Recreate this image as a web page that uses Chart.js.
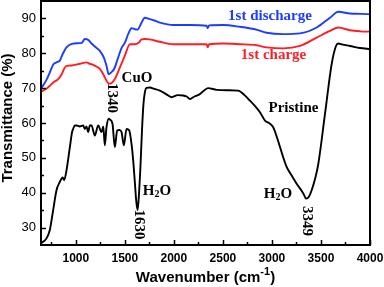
<!DOCTYPE html>
<html>
<head>
<meta charset="utf-8">
<script src="https://cdn.jsdelivr.net/npm/chart.js@4/dist/chart.umd.min.js"></script>
<style>
  html, body { margin: 0; padding: 0; background: #fff; }
  canvas { display: block; }
</style>
</head>
<body>
<canvas id="ftirChart" width="384" height="287"></canvas>
<script>
// FT-IR spectra: wavenumber (cm-1) vs transmittance (%)
const dischargeWavenumber = [650, 700, 735, 770, 803, 837, 870, 905, 960, 1024, 1060, 1092, 1125, 1160, 1200, 1245, 1285, 1313, 1335, 1360, 1391, 1432, 1466, 1500, 1534, 1568, 1602, 1630, 1665, 1704, 1755, 1800, 1857, 1993, 2163, 2334, 2345, 2360, 2503, 2674, 2827, 2946, 3115, 3286, 3456, 3592, 3677, 3796, 3900, 4000];
const dischargeValues = [70.1, 72.3, 74.5, 76.8, 77.4, 77.9, 80.0, 81.7, 82.7, 82.9, 83.0, 84.1, 83.9, 82.8, 81.8, 80.7, 78.8, 76.4, 74.0, 74.5, 75.5, 78.8, 81.5, 83.0, 85.5, 87.2, 86.9, 86.8, 88.5, 90.2, 89.8, 89.4, 88.8, 88.1, 88.1, 87.9, 87.2, 88.0, 88.1, 87.6, 86.9, 85.9, 85.5, 85.7, 87.4, 90.2, 91.9, 91.4, 91.3, 91.2];

const chargeWavenumber = [650, 700, 735, 780, 820, 854, 880, 905, 960, 1024, 1060, 1109, 1140, 1177, 1210, 1245, 1280, 1313, 1340, 1365, 1398, 1449, 1500, 1551, 1602, 1640, 1670, 1704, 1755, 1857, 1993, 2163, 2334, 2345, 2360, 2503, 2674, 2844, 2946, 3115, 3286, 3456, 3592, 3677, 3796, 3900, 4000];
const chargeValues = [69.1, 69.8, 70.7, 71.8, 72.6, 73.9, 75.5, 76.4, 76.5, 76.9, 77.1, 77.4, 77.0, 76.7, 76.2, 75.5, 74.0, 72.1, 71.3, 71.5, 72.6, 75.9, 79.3, 82.6, 82.6, 83.0, 84.0, 84.1, 84.0, 83.3, 82.6, 82.6, 82.6, 81.7, 82.6, 82.8, 82.6, 82.3, 81.7, 81.4, 82.1, 84.5, 86.4, 87.4, 86.6, 86.3, 86.2];

const pristineWavenumber = [645, 670, 701, 735, 769, 803, 837, 854, 866, 881, 905, 939, 962, 973, 990, 1007, 1041, 1075, 1092, 1109, 1126, 1143, 1160, 1194, 1228, 1262, 1280, 1296, 1313, 1337, 1347, 1374, 1398, 1422, 1444, 1466, 1490, 1517, 1544, 1568, 1585, 1602, 1615, 1630, 1645, 1660, 1675, 1690, 1704, 1721, 1755, 1800, 1857, 1920, 1976, 2040, 2095, 2130, 2163, 2210, 2265, 2350, 2436, 2550, 2656, 2720, 2776, 2830, 2878, 2929, 2970, 3013, 3050, 3082, 3150, 3200, 3252, 3320, 3349, 3380, 3405, 3440, 3473, 3541, 3609, 3653, 3677, 3720, 3796, 3898, 4000];
const pristineValues = [25.5, 26.0, 26.9, 29.3, 35.0, 40.7, 43.1, 44.0, 44.4, 43.6, 46.4, 53.0, 57.4, 58.3, 59.3, 59.3, 59.0, 59.3, 58.3, 59.0, 57.4, 59.3, 59.3, 56.4, 59.3, 57.4, 59.0, 53.6, 58.8, 61.2, 61.0, 59.8, 53.1, 57.9, 58.0, 57.4, 53.6, 58.3, 57.9, 54.0, 49.3, 43.0, 38.0, 35.0, 40.0, 48.0, 58.0, 65.5, 68.8, 70.1, 70.2, 69.8, 69.3, 68.3, 67.4, 68.0, 67.9, 67.6, 66.9, 67.6, 68.3, 70.0, 69.5, 69.4, 69.3, 68.0, 66.4, 64.8, 63.1, 60.7, 60.0, 58.8, 56.0, 53.1, 47.4, 45.0, 42.6, 39.8, 38.3, 39.0, 40.7, 44.0, 48.3, 62.6, 76.9, 82.1, 82.8, 82.5, 82.1, 81.5, 81.2];

const xTickValues = [1000, 1500, 2000, 2500, 3000, 3500, 4000];
const yTickValues = [30, 40, 50, 60, 70, 80, 90];

const BLUE = 'rgb(28, 60, 255)';
const RED = 'rgb(255, 28, 36)';
const SERIF = '"Liberation Serif", "Times New Roman", serif';
const SANS = '"Liberation Sans", Arial, sans-serif';

// text labels placed in data units
const labels = [
    { text: '1st discharge', x: 2980, y: 89.5, color: BLUE },
    { text: '1st charge', x: 3016, y: 78.4, color: RED },
    { text: 'CuO', x: 1624, y: 71.8, color: '#000' },
    { text: 'Pristine', x: 3220, y: 63.2, color: '#000' },
    { text: 'H2O', x: 1828, y: 39.3, color: '#000' },
    { text: 'H2O', x: 3062, y: 38.5, color: '#000' }
];
const peakLabels = [
    { text: '1340', x: 1364, y: 67.2 },
    { text: '1630', x: 1639, y: 30.9 },
    { text: '3349', x: 3353, y: 31.9 }
];

function toPoints(xs, ys) {
    return xs.map((x, i) => ({ x, y: ys[i] }));
}

function makeDataset(label, xs, ys, color) {
    return {
        label,
        data: toPoints(xs, ys),
        borderColor: color,
        backgroundColor: 'transparent',
        borderWidth: 1.9,
        pointRadius: 0,
        cubicInterpolationMode: 'monotone'
    };
}

function drawH2O(ctx, cx, baseline, size) {
    const big = 'bold ' + size + 'px ' + SERIF;
    const small = 'bold ' + Math.round(size * 0.65) + 'px ' + SERIF;
    ctx.font = big;
    const wH = ctx.measureText('H').width;
    const wO = ctx.measureText('O').width;
    ctx.font = small;
    const w2 = ctx.measureText('2').width;
    let x = cx - (wH + w2 + wO) / 2;
    ctx.textAlign = 'left';
    ctx.textBaseline = 'alphabetic';
    ctx.font = big;
    ctx.fillText('H', x, baseline);
    x += wH;
    ctx.font = small;
    ctx.fillText('2', x, baseline + 2);
    x += w2;
    ctx.font = big;
    ctx.fillText('O', x, baseline);
}

const decorPlugin = {
    id: 'decor',
    afterDraw(chart) {
        const { ctx, chartArea: a, scales: { x, y } } = chart;
        ctx.save();
        ctx.strokeStyle = '#000';
        ctx.fillStyle = '#000';

        // inward ticks on bottom and left
        ctx.lineWidth = 1.5;
        ctx.beginPath();
        for (let v = 750; v <= 4000; v += 250) {
            const px = Math.round(x.getPixelForValue(v)) + 0.5;
            const len = v % 500 === 0 ? 5 : 3;
            ctx.moveTo(px, a.bottom);
            ctx.lineTo(px, a.bottom - len);
        }
        for (let v = 30; v <= 90; v += 5) {
            const py = Math.round(y.getPixelForValue(v)) + 0.5;
            const len = v % 10 === 0 ? 5 : 3;
            ctx.moveTo(a.left, py);
            ctx.lineTo(a.left + len, py);
        }
        ctx.stroke();

        // frame
        ctx.lineWidth = 2;
        ctx.strokeRect(a.left, a.top, a.right - a.left, a.bottom - a.top);

        // annotations
        labels.forEach(l => {
            const px = x.getPixelForValue(l.x);
            const py = y.getPixelForValue(l.y);
            ctx.fillStyle = l.color;
            if (l.text === 'H2O') {
                drawH2O(ctx, px, py, 15);
            } else {
                ctx.font = 'bold 15px ' + SERIF;
                ctx.textAlign = 'center';
                ctx.textBaseline = 'alphabetic';
                ctx.fillText(l.text, px, py);
            }
        });
        ctx.fillStyle = '#000';
        ctx.font = 'bold 15px ' + SERIF;
        peakLabels.forEach(l => {
            ctx.save();
            ctx.translate(x.getPixelForValue(l.x), y.getPixelForValue(l.y));
            ctx.rotate(Math.PI / 2);
            ctx.textAlign = 'center';
            ctx.textBaseline = 'middle';
            ctx.fillText(l.text, 0, 0);
            ctx.restore();
        });

        // axis titles
        ctx.save();
        ctx.translate(8, 118);
        ctx.rotate(-Math.PI / 2);
        ctx.font = 'bold 15px ' + SANS;
        ctx.textAlign = 'center';
        ctx.textBaseline = 'middle';
        ctx.fillText('Transmittance (%)', 0, 0);
        ctx.restore();

        const mainFont = 'bold 15px ' + SANS;
        const supFont = 'bold 11px ' + SANS;
        ctx.font = mainFont;
        const w1 = ctx.measureText('Wavenumber (cm').width;
        const w3 = ctx.measureText(')').width;
        ctx.font = supFont;
        const w2 = ctx.measureText('-1').width;
        let tx = (a.left + a.right) / 2 - (w1 + w2 + w3) / 2;
        const base = 282;
        ctx.textAlign = 'left';
        ctx.textBaseline = 'alphabetic';
        ctx.font = mainFont;
        ctx.fillText('Wavenumber (cm', tx, base);
        tx += w1;
        ctx.font = supFont;
        ctx.fillText('-1', tx, base - 7);
        tx += w2;
        ctx.font = mainFont;
        ctx.fillText(')', tx, base);

        ctx.restore();
    }
};

const ctx = document.getElementById('ftirChart').getContext('2d');
new Chart(ctx, {
    type: 'line',
    data: {
        datasets: [
            makeDataset('Pristine', pristineWavenumber, pristineValues, '#000'),
            makeDataset('1st charge', chargeWavenumber, chargeValues, RED),
            makeDataset('1st discharge', dischargeWavenumber, dischargeValues, BLUE)
        ]
    },
    options: {
        responsive: false,
        animation: false,
        layout: { padding: { top: 1, right: 14, left: 0, bottom: 0 } },
        plugins: {
            legend: { display: false },
            tooltip: { enabled: false }
        },
        scales: {
            x: {
                type: 'linear',
                min: 645,
                max: 4000,
                afterBuildTicks: s => { s.ticks = xTickValues.map(v => ({ value: v })); },
                afterFit: s => {
                    s.height = 42;
                    s.paddingLeft = 0;
                    s.paddingRight = 0;
                },
                grid: { display: false, drawTicks: false },
                border: { display: false },
                ticks: {
                    padding: 6,
                    color: '#000',
                    maxRotation: 0,
                    autoSkip: false,
                    font: { family: SANS, size: 12, weight: 'bold' },
                    callback: v => String(v)
                }
            },
            y: {
                min: 25,
                max: 95,
                afterBuildTicks: s => { s.ticks = yTickValues.map(v => ({ value: v })); },
                afterFit: s => {
                    s.width = 41;
                    s.paddingTop = 0;
                    s.paddingBottom = 0;
                },
                grid: { display: false, drawTicks: false },
                border: { display: false },
                ticks: {
                    padding: 5,
                    color: '#000',
                    font: { family: SANS, size: 13 },
                    callback: v => String(v)
                }
            }
        }
    },
    plugins: [decorPlugin]
});
</script>
</body>
</html>
